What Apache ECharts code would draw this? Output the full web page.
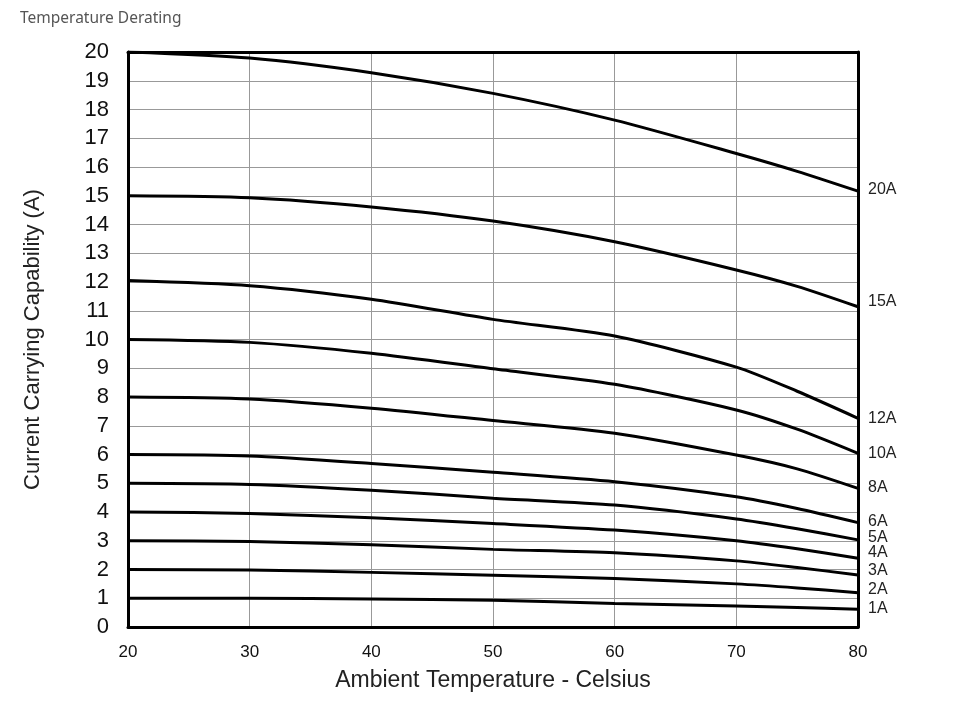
<!DOCTYPE html>
<html>
<head>
<meta charset="utf-8">
<script src="https://cdn.jsdelivr.net/npm/echarts@6/dist/echarts.min.js"></script>
<style>html,body{margin:0;padding:0;background:#fff}#c{width:960px;height:703px}</style>
</head>
<body>
<div id="c"></div>
<script>
const temps = [20, 30, 40, 50, 60, 70, 75, 80];
const ratingNames = ['20A','15A','12A','10A','8A','6A','5A','4A','3A','2A','1A'];
const s20 = [20, 19.79, 19.28, 18.56, 17.63, 16.47, 15.85, 15.16];
const s15 = [15, 14.93, 14.61, 14.12, 13.40, 12.42, 11.85, 11.14];
const s12 = [12.05, 11.87, 11.40, 10.70, 10.12, 9.04, 8.20, 7.26];
const s10 = [10, 9.90, 9.52, 8.98, 8.44, 7.55, 6.88, 6.04];
const s8  = [8, 7.93, 7.61, 7.18, 6.74, 5.98, 5.50, 4.82];
const s6  = [6, 5.95, 5.69, 5.38, 5.05, 4.53, 4.12, 3.63];
const s5  = [5, 4.96, 4.76, 4.48, 4.24, 3.76, 3.42, 3.03];
const s4  = [4, 3.95, 3.80, 3.60, 3.37, 3.00, 2.72, 2.39];
const s3  = [3, 2.97, 2.86, 2.70, 2.58, 2.30, 2.07, 1.81];
const s2  = [2, 1.98, 1.90, 1.80, 1.69, 1.50, 1.36, 1.19];
const s1  = [1, 1.00, 0.97, 0.93, 0.82, 0.73, 0.68, 0.62];
const allSeries = [s20, s15, s12, s10, s8, s6, s5, s4, s3, s2, s1];
const labelOffsetY = [-2, -5, 0, 0, -1, -1, -2, -6, -4, -3, -1];

const chart = echarts.init(document.getElementById('c'));
const font = "'Liberation Sans', Arial, sans-serif";
const frameLine = { show: true, onZero: false, lineStyle: { color: '#000', width: 3 } };
chart.setOption({
  animation: false,
  title: {
    text: 'Temperature Derating', left: 15, top: 6,
    textStyle: { fontFamily: "'Noto Sans', 'Open Sans', sans-serif", fontSize: 15.5, fontWeight: 'normal', color: '#555' }
  },
  grid: { left: 128, right: 102, top: 52, bottom: 76 },
  xAxis: [{
    type: 'value', min: 20, max: 80, interval: 10, position: 'bottom',
    name: 'Ambient Temperature - Celsius', nameLocation: 'middle', nameGap: 42,
    nameTextStyle: { fontFamily: font, fontSize: 23, color: '#222' },
    axisLine: frameLine, axisTick: { show: false },
    axisLabel: { fontFamily: font, fontSize: 17, color: '#111', margin: 17 },
    splitLine: { show: true, lineStyle: { color: '#999', width: 1 } }
  }, {
    type: 'value', min: 20, max: 80, interval: 10, position: 'top',
    axisLine: frameLine, axisTick: { show: false }, axisLabel: { show: false }, splitLine: { show: false }
  }],
  yAxis: [{
    type: 'value', min: 0, max: 20, interval: 1, position: 'left',
    name: 'Current Carrying Capability (A)', nameLocation: 'middle', nameGap: 84, nameRotate: 90,
    nameTextStyle: { fontFamily: font, fontSize: 22, color: '#222' },
    axisLine: frameLine, axisTick: { show: false },
    axisLabel: { fontFamily: font, fontSize: 22, color: '#111', margin: 19 },
    splitLine: { show: true, lineStyle: { color: '#999', width: 1 } }
  }, {
    type: 'value', min: 0, max: 20, interval: 1, position: 'right',
    axisLine: frameLine, axisTick: { show: false }, axisLabel: { show: false }, splitLine: { show: false }
  }],
  series: allSeries.map((vals, i) => ({
    name: ratingNames[i],
    type: 'line',
    data: temps.map((t, k) => [t, vals[k]]),
    smooth: 0.25,
    symbol: 'none',
    lineStyle: { color: '#000', width: 3 },
    endLabel: {
      show: true, formatter: '{a}', distance: 10, offset: [0, labelOffsetY[i]],
      fontFamily: font, fontSize: 16, color: '#222'
    }
  }))
});
</script>
</body>
</html>
